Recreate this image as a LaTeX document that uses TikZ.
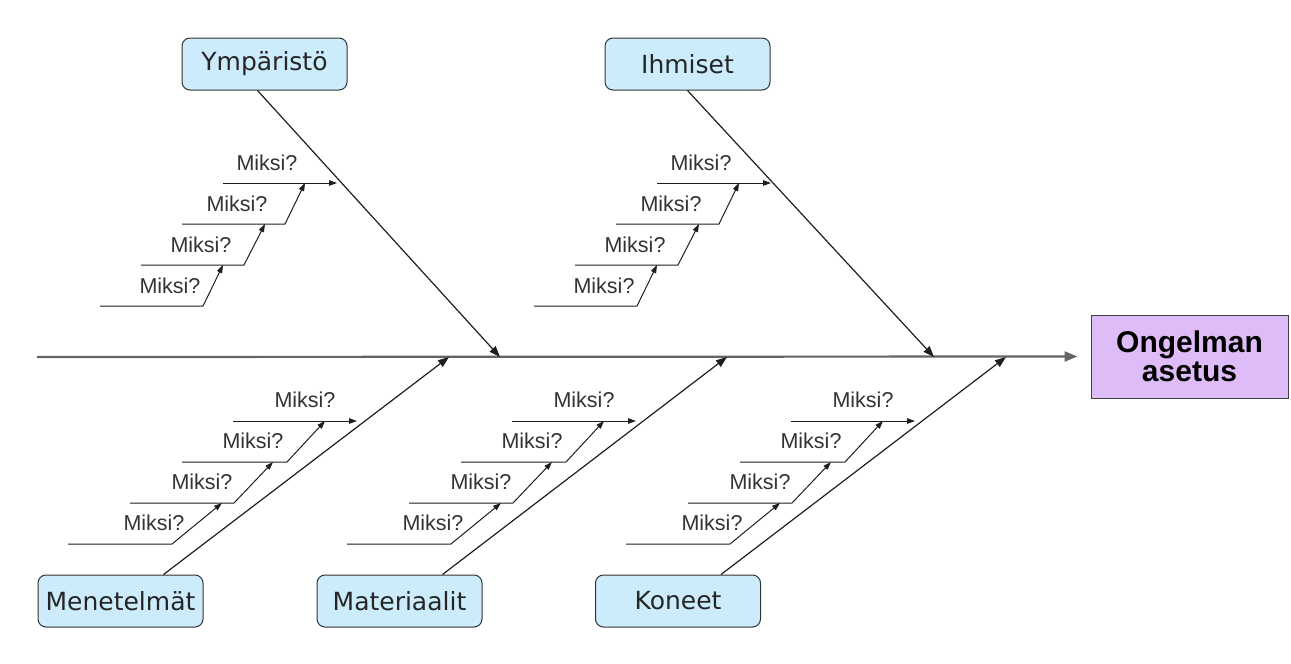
\documentclass[tikz,border=0pt]{standalone}
\usepackage{fontspec}
\setmainfont{Liberation Sans}
\newfontfamily\boxfont{DejaVu Sans}
\usetikzlibrary{arrows.meta, positioning, calc}
\definecolor{causefill}{RGB}{204,236,252}
\definecolor{effectfill}{RGB}{221,188,247}
\definecolor{boneline}{RGB}{30,30,30}
\definecolor{spineline}{RGB}{100,100,100}

\begin{document}
\begin{tikzpicture}[x=1pt, y=-1pt,
causebox/.style={draw=black!80, line width=1pt, rounded corners=8pt, fill=causefill,
  minimum width=165pt, minimum height=52pt, inner sep=0pt,
  font=\boxfont\fontsize{25}{30}\selectfont, text=black!85},
effectbox/.style={draw=black!75, line width=1pt, fill=effectfill, minimum width=197pt,
  minimum height=83pt, inner sep=0pt, align=center,
  font=\bfseries\fontsize{30}{29}\selectfont},
why/.style={inner sep=0pt, font=\fontsize{21.5}{24}\selectfont, text=black!80},
bone/.style={draw=boneline, line width=1.2pt, -{Triangle[length=11pt,width=8pt]}},
whyline/.style={draw=boneline, line width=1pt, -{Triangle[length=8pt,width=5.5pt]}}
]
\useasboundingbox (0,0) rectangle (1291,664);

% -------- Effect and spine --------
\node[effectbox] (ong) at (1189.5,356.5) {Ongelman\\asetus};
\coordinate (tail) at (37,357);
\draw[draw=spineline, line width=2.2pt, -{Triangle[length=13pt,width=10pt]}, shorten >=13pt]
  (tail) -- (ong.west);

% -------- Cause boxes --------
\node[causebox] (ymp) at (264.5,64) {Ympäristö};
\node[causebox] (ihm) at (687.5,64) {Ihmiset};
\node[causebox] (men) at (120.5,601) {Menetelmät};
\node[causebox] (mat) at (399.5,601) {Materiaalit};
\node[causebox] (kon) at (678,601) {Koneet};

% -------- Main bones --------
\coordinate (jy) at (500,357);
\coordinate (ji) at (934,357);
\coordinate (jm) at (449,357);
\coordinate (ja) at (727,357);
\coordinate (jk) at (1006,357);
\draw[bone] ([xshift=-7pt]ymp.south) -- (jy);
\draw[bone] (ihm.south) -- (ji);
\draw[bone] ([xshift=43pt]men.north) -- (jm);
\draw[bone] ([xshift=43pt]mat.north) -- (ja);
\draw[bone] ([xshift=43pt]kon.north) -- (jk);

% -------- Why steps, upper branches --------
\foreach \s/\c in {0/y, 434/i} {
  \coordinate (\c0a) at (223+\s,183);
  \coordinate (\c0b) at (337+\s,183);
  \node[why] (\c w0) at (267+\s,163) {Miksi?};
  \draw[whyline] (\c0a) -- (\c0b);
  \foreach \k/\l/\r/\t/\yy/\tx/\yp in
    {1/182/285/305/224/237/183, 2/141/244/265/265/201/224, 3/100/203/223/306/170/265} {
    \coordinate (\c\k a) at (\l+\s,\yy);
    \coordinate (\c\k b) at (\r+\s,\yy);
    \coordinate (\c\k t) at (\t+\s,\yp);
    \node[why] (\c w\k) at (\tx+\s,\yy-20) {Miksi?};
    \draw[whyline] (\c\k a) -- (\c\k b) -- (\c\k t);
  }
}

% -------- Why steps, lower branches --------
\foreach \s/\c in {0/m, 279/a, 558/k} {
  \coordinate (\c0a) at (233+\s,421);
  \coordinate (\c0b) at (357+\s,421);
  \node[why] (\c w0) at (305+\s,400) {Miksi?};
  \draw[whyline] (\c0a) -- (\c0b);
  \foreach \k/\l/\r/\t/\yy/\tx/\yp in
    {1/182/287/325/462/253/421, 2/130/234/273/503/202/462, 3/68/172/222/544/154/503} {
    \coordinate (\c\k a) at (\l+\s,\yy);
    \coordinate (\c\k b) at (\r+\s,\yy);
    \coordinate (\c\k t) at (\t+\s,\yp);
    \node[why] (\c w\k) at (\tx+\s,\yy-21) {Miksi?};
    \draw[whyline] (\c\k a) -- (\c\k b) -- (\c\k t);
  }
}

\end{tikzpicture}
\end{document}
